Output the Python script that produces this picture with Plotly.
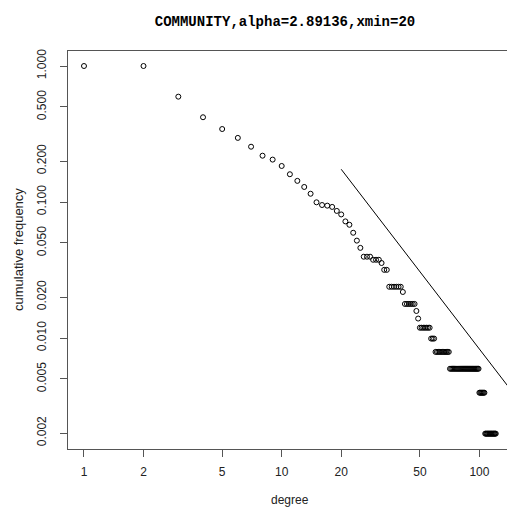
import plotly.graph_objects as go

# ---- data ----
degree = list(range(1, 122))
cum_freq = [
    1.0, 1.0, 0.595, 0.42, 0.344, 0.296, 0.255, 0.219, 0.205, 0.184,
    0.160, 0.143, 0.129, 0.115, 0.0995, 0.095, 0.094, 0.092, 0.086, 0.081,
    0.072, 0.068, 0.0594, 0.052, 0.046,
    0.0396, 0.0396, 0.0396,
    0.0376, 0.0376, 0.0376,
    0.0356,
    0.0317, 0.0317,
    0.0238, 0.0238, 0.0238, 0.0238, 0.0238, 0.0238,
    0.0218,
    0.0178, 0.0178, 0.0178, 0.0178, 0.0178, 0.0178,
    0.0158,
    0.0139,
    0.0119, 0.0119, 0.0119, 0.0119, 0.0119, 0.0119, 0.0119,
    0.0099, 0.0099, 0.0099,
    0.0079, 0.0079, 0.0079, 0.0079, 0.0079, 0.0079, 0.0079, 0.0079, 0.0079, 0.0079, 0.0079,
    0.00594, 0.00594, 0.00594, 0.00594, 0.00594, 0.00594, 0.00594, 0.00594, 0.00594, 0.00594,
    0.00594, 0.00594, 0.00594, 0.00594, 0.00594, 0.00594, 0.00594, 0.00594, 0.00594, 0.00594,
    0.00594, 0.00594, 0.00594, 0.00594, 0.00594, 0.00594, 0.00594, 0.00594, 0.00594,
    0.00396, 0.00396, 0.00396, 0.00396, 0.00396, 0.00396, 0.00396,
    0.00198, 0.00198, 0.00198, 0.00198, 0.00198, 0.00198, 0.00198, 0.00198,
    0.00198, 0.00198, 0.00198, 0.00198, 0.00198, 0.00198, 0.00198,
]

# power-law fit
alpha = 2.89136
xmin = 20
fit_start = 0.174
fit_x = [20, 150]
fit_y = [fit_start * (x / xmin) ** (1 - alpha) for x in fit_x]

x_tickvals = [1, 2, 5, 10, 20, 50, 100]
x_ticktext = ["1", "2", "5", "10", "20", "50", "100"]
y_tickvals = [0.002, 0.005, 0.010, 0.020, 0.050, 0.100, 0.200, 0.500, 1.000]
y_ticktext = ["0.002", "0.005", "0.010", "0.020", "0.050", "0.100", "0.200", "0.500", "1.000"]

title_text = "COMMUNITY,alpha=2.89136,xmin=20"

FONT = "Liberation Sans Narrow, Liberation Sans, DejaVu Sans, sans-serif"
AX = "#555555"
TXT = "#222222"

W, H = 507, 509
L, T, B = 68, 51, 60
PW, PH = W - L, H - T - B

fig = go.Figure()
fig.add_trace(go.Scatter(
    x=degree, y=cum_freq, mode="markers",
    marker=dict(symbol="circle-open", size=5, color="black", line=dict(width=1, color="black")),
    showlegend=False, hoverinfo="skip",
))
fig.add_trace(go.Scatter(
    x=fit_x, y=fit_y, mode="lines",
    line=dict(color="black", width=1),
    showlegend=False, hoverinfo="skip",
))

fig.update_layout(
    width=W, height=H,
    margin=dict(l=L, r=0, t=T, b=B, pad=0),
    paper_bgcolor="white", plot_bgcolor="white",
    font=dict(family=FONT, size=12, color=TXT),
    title=dict(text=title_text, x=(285 - L) / PW, xref="paper", xanchor="center",
               y=1 - 21 / H, yanchor="middle",
               font=dict(family="Liberation Mono, DejaVu Sans Mono, monospace", size=14, color="black", weight="bold")),
    xaxis=dict(
        type="log", range=[-0.0809, 2.1396],
        tickvals=x_tickvals, ticktext=x_ticktext,
        ticks="outside", ticklen=7, tickcolor=AX, tickwidth=1,
        ticklabelstandoff=5,
        showgrid=False, zeroline=False,
        showline=True, linecolor=AX, linewidth=1, mirror=True,
        tickfont=dict(family=FONT, size=12, color=TXT),
    ),
    yaxis=dict(
        type="log", range=[-2.8162, 0.1103],
        tickvals=y_tickvals, ticktext=y_ticktext, tickangle=-90,
        ticks="outside", ticklen=7, tickcolor=AX, tickwidth=1,
        ticklabelstandoff=9,
        showgrid=False, zeroline=False,
        showline=True, linecolor=AX, linewidth=1, mirror=False,
        tickfont=dict(family=FONT, size=12, color=TXT),
    ),
    annotations=[
        dict(text="degree", x=(290 - L) / PW, y=-(500 - 449) / PH, xref="paper", yref="paper",
             xanchor="center", yanchor="middle", showarrow=False,
             font=dict(family=FONT, size=12, color=TXT)),
        dict(text="cumulative frequency", x=-(68 - 18) / PW, y=0.5, xref="paper", yref="paper",
             xanchor="center", yanchor="middle", textangle=-90, showarrow=False,
             font=dict(family=FONT, size=13, color=TXT)),
    ],
)

# remove the browser's default 8px page margin so the figure fills the window
fig.write_html(
    "out.html",
    config={"displayModeBar": False},
    post_script="document.body.style.margin='0';document.body.style.overflow='hidden';",
)
